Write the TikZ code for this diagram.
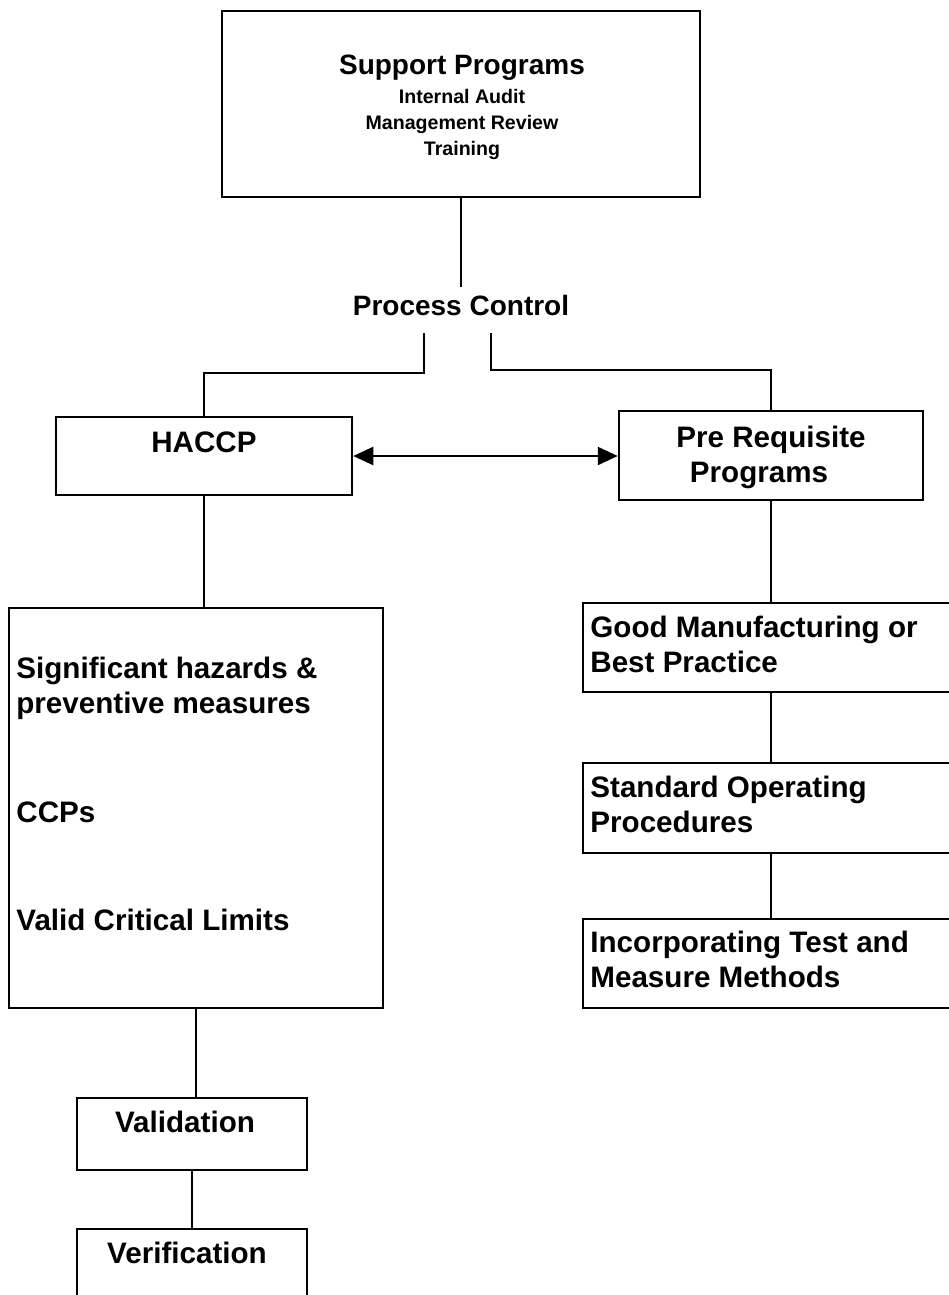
\documentclass[tikz,border=0pt]{standalone}
\usepackage{fontspec}
\setmainfont{Liberation Sans}
\usepackage{tikz}
\usetikzlibrary{shapes,positioning,calc}
\usetikzlibrary{arrows.meta}
\tikzstyle{box} = [rectangle, draw=black, line width=1.25pt, inner sep=0pt]
\tikzstyle{txt} = [inner sep=0pt, text depth=0pt, font=\bfseries\fontsize{14.8}{17.5}\selectfont]
\tikzstyle{headtxt} = [inner sep=0pt, text depth=0pt, font=\bfseries\fontsize{14}{17}\selectfont]
\tikzstyle{smalltxt} = [inner sep=0pt, text depth=0pt, font=\bfseries\fontsize{9.8}{13}\selectfont]
\tikzstyle{link} = [line width=1.15pt]
\tikzstyle{arrow} = [line width=1.15pt,{Triangle[length=10pt,width=9pt]}-{Triangle[length=10pt,width=9pt]}]

\begin{document}
\begin{tikzpicture}[x=0.5pt, y=-0.5pt]
				\useasboundingbox (0,0) rectangle (948,1295);
				% support programs
				\node (sup) at (461,104) [box, minimum width=239pt, minimum height=93pt] {};
				\node (supt) at (462,65) [headtxt] {Support Programs};
				\node (supl) at (462,122) [smalltxt, align=center] {Internal Audit\\Management Review\\Training};
				\node (pc) at (461,305) [headtxt] {Process Control};
				\coordinate (pctop) at (461,287);
				\coordinate (pcl) at (424,333);
				\coordinate (pcr) at (491,333);
				% haccp side
				\node (haccp) at (204,456) [box, minimum width=148pt, minimum height=39pt] {};
				\node (haccpt) at (204,442) [txt] {HACCP};
				\node (hz) at (196,808) [box, minimum width=187pt, minimum height=200pt] {};
				\node (hz1) at (16,685.5) [txt, anchor=west, align=left] {Significant hazards \&\\preventive measures};
				\node (hz2) at (16,812) [txt, anchor=west] {CCPs};
				\node (hz3) at (16,920) [txt, anchor=west] {Valid Critical Limits};
				\node (val) at (192,1134) [box, minimum width=115pt, minimum height=36pt] {};
				\node (valt) at (185,1122) [txt] {Validation};
				\node (ver) at (192,1265) [box, minimum width=115pt, minimum height=36pt] {};
				\node (vert) at (187,1253) [txt] {Verification};
				% pre requisite side
				\node (prp) at (771,455.5) [box, minimum width=152pt, minimum height=44.5pt] {};
				\node (prpt) at (771,454.5) [txt, align=center] {Pre Requisite\\Programs\hspace*{12pt}};
				\node (gmp) at (771,647.5) [box, minimum width=188pt, minimum height=44.5pt] {};
				\node (gmpt) at (590,644.5) [txt, anchor=west, align=left] {Good Manufacturing or\\Best Practice};
				\node (sop) at (771,808) [box, minimum width=188pt, minimum height=45pt] {};
				\node (sopt) at (590,804.5) [txt, anchor=west, align=left] {Standard Operating\\Procedures};
				\node (itm) at (771,963.5) [box, minimum width=188pt, minimum height=44.5pt] {};
				\node (itmt) at (590,959.5) [txt, anchor=west, align=left] {Incorporating Test and\\Measure Methods};
				% connectors
				\draw[link] (sup) -- (pctop);
				\draw[link] (pcl) -- ++(0,40) -| (haccp.north);
				\draw[link] (pcr) -- ++(0,37) -| (prp.north);
				\draw[arrow] (haccp.east) -- (haccp.east -| prp.west);
				\draw[link] (haccp) -- (haccp |- hz.north);
				\draw[link] (hz.south) -- (hz.south |- val.north);
				\draw[link] (val) -- (ver);
				\draw[link] (prp) -- (gmp);
				\draw[link] (gmp) -- (sop);
				\draw[link] (sop) -- (itm);
				\end{tikzpicture}
\end{document}
